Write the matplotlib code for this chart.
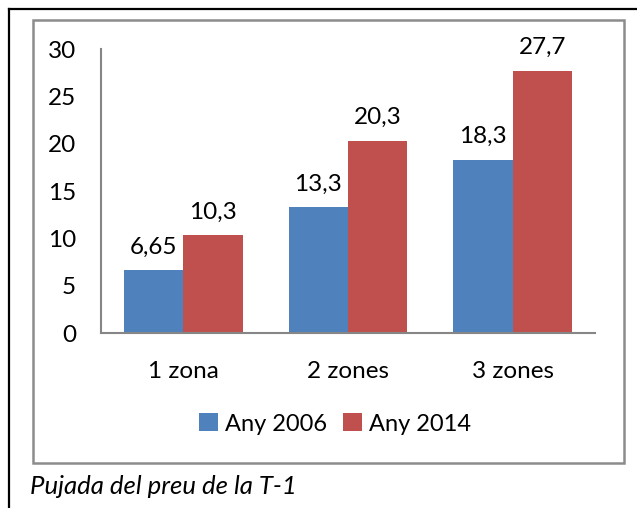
import numpy as np
import matplotlib.pyplot as plt
from matplotlib.patches import Rectangle
from matplotlib.lines import Line2D

plt.rcParams['font.family'] = ['Lato', 'DejaVu Sans']

categories = ["1 zona", "2 zones", "3 zones"]
any_2006 = [6.65, 13.3, 18.3]
any_2014 = [10.3, 20.3, 27.7]
series_names = ["Any 2006", "Any 2014"]
value_labels_2006 = ["6,65", "13,3", "18,3"]
value_labels_2014 = ["10,3", "20,3", "27,7"]
y_ticks = [0, 5, 10, 15, 20, 25, 30]

W, H = 637, 508
fig = plt.figure(figsize=(W / 100, H / 100), dpi=100)

# outer cell border (top + left, black)
fig.add_artist(Line2D([9 / W, 1], [1 - 8.5 / H, 1 - 8.5 / H], color="black", lw=1.6))
fig.add_artist(Line2D([9 / W, 9 / W], [0, 1 - 8.5 / H], color="black", lw=1.6))

# gray chart box
fig.add_artist(Rectangle((33 / W, 1 - 463 / H), (624 - 33) / W, (463 - 20) / H,
                         fill=False, edgecolor="#8c8c8c", lw=1.8))

ax = fig.add_axes([101 / W, 1 - 333 / H, (595 - 101) / W, (333 - 49) / H])

x = np.arange(len(categories))
w = 0.361
b1 = ax.bar(x - w / 2, any_2006, w, color="#4F81BD", label=series_names[0])
b2 = ax.bar(x + w / 2, any_2014, w, color="#C0504D", label=series_names[1])

fs = 17.5
for bars, labels in ((b1, value_labels_2006), (b2, value_labels_2014)):
    for bar, lab in zip(bars, labels):
        ax.annotate(lab, (bar.get_x() + bar.get_width() / 2, bar.get_height()),
                    xytext=(0, 9), textcoords="offset points",
                    ha="center", va="bottom", fontsize=fs)

ax.set_xlim(-0.5, len(categories) - 0.5)
ax.set_ylim(0, 30)
ax.set_yticks(y_ticks)
ax.set_xticks(x)
ax.set_xticklabels(categories)
ax.tick_params(axis="both", length=0, labelsize=fs)
ax.tick_params(axis="y", pad=18)
ax.tick_params(axis="x", pad=20)
for s in ("top", "right"):
    ax.spines[s].set_visible(False)
for s in ("left", "bottom"):
    ax.spines[s].set_color("#868686")
    ax.spines[s].set_linewidth(1.5)

fig.legend(handles=[b1, b2], labels=series_names, loc="center",
           bbox_to_anchor=(335 / W, 1 - 424 / H), ncol=2, frameon=False,
           fontsize=17, handlelength=0.8, handleheight=0.8,
           handletextpad=0.3, columnspacing=0.7)

fig.text(30 / W, 1 - 487 / H, "Pujada del preu de la T-1", style="italic",
         fontsize=18.5, ha="left", va="center")

fig.savefig("out.png", dpi=100)
